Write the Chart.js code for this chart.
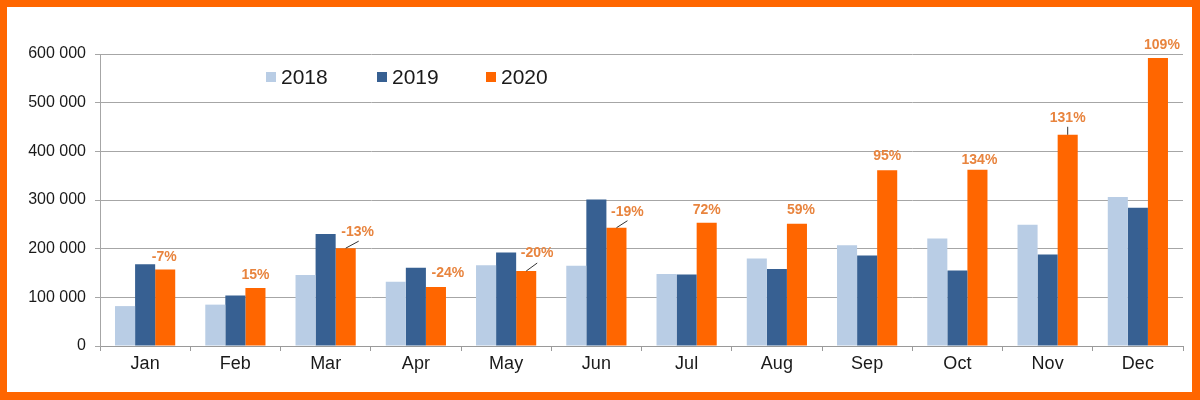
<!DOCTYPE html>
<html>
<head>
<meta charset="utf-8">
<script src="https://cdn.jsdelivr.net/npm/chart.js@4"></script>
<style>
html,body{margin:0;padding:0;background:#fff;}
#wrap{width:1200px;height:400px;position:relative;}
</style>
</head>
<body>
<div id="wrap"><canvas id="c" width="1200" height="400"></canvas></div>
<script>
const months = ["Jan","Feb","Mar","Apr","May","Jun","Jul","Aug","Sep","Oct","Nov","Dec"];
const seriesNames = ["2018","2019","2020"];
const values2018 = [82000, 85000, 146000, 132000, 166000, 165000, 148000, 180000, 207000, 221000, 249000, 306000];
const values2019 = [168000, 104000, 230000, 161000, 192000, 301000, 147000, 158000, 186000, 155000, 188000, 284000];
const values2020 = [157000, 119000, 201000, 121000, 154000, 243000, 253000, 251000, 361000, 362000, 434000, 592000];
const changeLabels = ["-7%","15%","-13%","-24%","-20%","-19%","72%","59%","95%","134%","131%","109%"];
const yTicks = [0, 100000, 200000, 300000, 400000, 500000, 600000];

const colors = ["#B9CDE5", "#376092", "#FF6600"];

function fmt(v){ return String(v).replace(/\B(?=(\d{3})+(?!\d))/g, " "); }

const framePlugin = {
  id: 'frame',
  beforeDraw(chart){
    const ctx = chart.ctx;
    ctx.save();
    ctx.fillStyle = '#FF6600';
    ctx.fillRect(0,0,chart.width,chart.height);
    ctx.fillStyle = '#FFFFFF';
    ctx.fillRect(7,7,chart.width-15,chart.height-15);
    ctx.restore();
  }
};

const legendPlugin = {
  id: 'customLegend',
  afterDraw(chart, args, opts){
    const ctx = chart.ctx;
    ctx.save();
    ctx.font = '21px "Liberation Sans", Arial, sans-serif';
    ctx.textBaseline = 'alphabetic';
    ctx.textAlign = 'left';
    chart.data.datasets.forEach((ds, i) => {
      const x = opts.xs[i];
      ctx.fillStyle = ds.backgroundColor;
      ctx.fillRect(x, opts.boxTop, opts.box, opts.box);
      ctx.fillStyle = '#1a1a1a';
      ctx.fillText(ds.label, x + opts.box + 5, opts.baseline);
    });
    ctx.restore();
  }
};

const pctPlugin = {
  id: 'pctLabels',
  afterDatasetsDraw(chart, args, opts){
    const ctx = chart.ctx;
    const meta = chart.getDatasetMeta(2);
    ctx.save();
    ctx.font = 'bold 14px "Liberation Sans", Arial, sans-serif';
    ctx.textAlign = 'center';
    ctx.textBaseline = 'middle';
    meta.data.forEach((bar, i) => {
      const s = opts.shift[i];
      const lead = opts.leaders[i];
      if (lead) {
        ctx.strokeStyle = '#333';
        ctx.lineWidth = 1;
        ctx.beginPath();
        ctx.moveTo(bar.x, bar.y);
        ctx.lineTo(bar.x + lead[0], bar.y + lead[1]);
        ctx.stroke();
      }
      ctx.fillStyle = '#E8843E';
      ctx.fillText(changeLabels[i], bar.x + s[0], bar.y + s[1]);
    });
    ctx.restore();
  }
};

new Chart(document.getElementById('c'), {
  type: 'bar',
  data: {
    labels: months,
    datasets: [
      { label: seriesNames[0], data: values2018, backgroundColor: colors[0] },
      { label: seriesNames[1], data: values2019, backgroundColor: colors[1] },
      { label: seriesNames[2], data: values2020, backgroundColor: colors[2] }
    ]
  },
  options: {
    responsive: false,
    animation: false,
    devicePixelRatio: 1,
    layout: { padding: { left: 0, right: 17, top: 54, bottom: 8 } },
    datasets: { bar: { categoryPercentage: 0.667, barPercentage: 1.0, borderWidth: 0 } },
    plugins: {
      legend: { display: false },
      tooltip: { enabled: false },
      customLegend: { xs: [266, 377, 486], box: 10, boxTop: 72, baseline: 84 },
      pctLabels: {
        shift: [[-1,-12],[0,-13],[12,-16],[12,-14],[11,-18],[11,-16],[0,-13],[4,-14],[0,-14],[2,-10],[0,-17],[4,-13]],
        leaders: [null,null,[13,-7],null,[11,-8],[11,-7],null,null,null,null,[0,-8],null]
      }
    },
    scales: {
      x: {
        grid: { drawOnChartArea: false, drawTicks: true, tickLength: 5, color: '#9a9a9a', offset: true },
        border: { display: true, color: '#9a9a9a', width: 1 },
        ticks: { color: '#1a1a1a', font: { family: '"Liberation Sans", Arial, sans-serif', size: 18 }, padding: 2 },
        afterFit(axis){ axis.height = 46; }
      },
      y: {
        min: 0, max: 600000,
        afterBuildTicks(axis){ axis.ticks = yTicks.map(v => ({ value: v })); },
        grid: { color: '#a6a6a6', lineWidth: 1, tickLength: 5 },
        border: { display: true, color: '#a6a6a6', width: 1 },
        ticks: { color: '#1a1a1a', font: { family: '"Liberation Sans", Arial, sans-serif', size: 16 }, padding: 9, callback: v => fmt(v) },
        afterFit(axis){ axis.width = 100; }
      }
    }
  },
  plugins: [framePlugin, legendPlugin, pctPlugin]
});
</script>
</body>
</html>
